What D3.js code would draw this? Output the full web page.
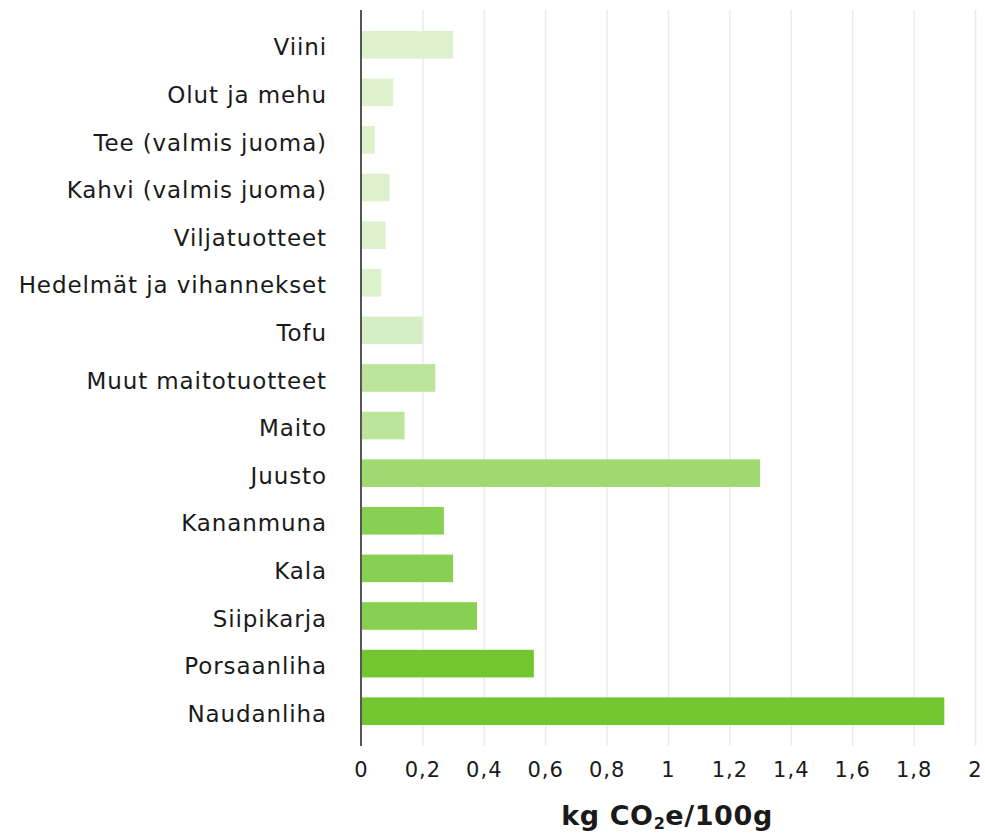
<!DOCTYPE html>
<html>
<head>
<meta charset="utf-8">
<script src="https://cdn.jsdelivr.net/npm/d3@7"></script>
<style>
    body { margin: 0; background: #fff; }
    #chart text { font-family: "DejaVu Sans", sans-serif; fill: #1a1a1a; }
    .grid line { stroke: #ebebeb; stroke-width: 1.5; }
    .grid path { display: none; }
</style>
</head>
<body>
<svg id="chart" width="985" height="833"></svg>
<script>
'use strict';
let categories = ["Viini", "Olut ja mehu ", "Tee (valmis juoma)", "Kahvi (valmis juoma)", "Viljatuotteet",
    "Hedelmät ja vihannekset", "Tofu", "Muut maitotuotteet", "Maito", "Juusto", "Kananmuna", "Kala",
    "Siipikarja", "Porsaanliha", "Naudanliha"];
let values = [0.30, 0.105, 0.045, 0.093, 0.08, 0.066, 0.20, 0.242, 0.142, 1.30, 0.27, 0.30, 0.378, 0.563, 1.90];
let barColors = ["#dcf1cc", "#dcf1cc", "#dcf1cc", "#dcf1cc", "#dcf1cc", "#dcf1cc", "#d5eec3",
    "#bce59b", "#bce59b", "#a0d972", "#88d051", "#88d051", "#88d051", "#72c62f", "#72c62f"];
let xTicks = [0, 0.2, 0.4, 0.6, 0.8, 1, 1.2, 1.4, 1.6, 1.8, 2];
let xLabelParts = ["kg CO", "2", "e/100g"];

let svg = d3.select("#chart");
let x0 = 361, x1 = 975, yTop = 10, yBottom = 746;

let x = d3.scaleLinear()
    .domain([0, 2])
    .range([x0, x1]);

let y = d3.scaleBand()
    .domain(categories)
    .range([20.9, 735])
    .paddingInner(0.42)
    .paddingOuter(0.21);

// grid lines
svg.append("g")
    .attr("class", "grid")
    .attr("transform", "translate(0," + yBottom + ")")
    .call(d3.axisBottom(x).tickValues(xTicks.slice(1)).tickSize(-(yBottom - yTop)).tickFormat(""));

// bars
svg.append("g")
    .selectAll("rect")
    .data(categories)
    .enter()
    .append("rect")
        .attr("x", x(0))
        .attr("y", d => y(d))
        .attr("width", (d, i) => x(values[i]) - x(0))
        .attr("height", y.bandwidth())
        .attr("fill", (d, i) => barColors[i]);

// y axis line
svg.append("line")
    .attr("x1", x0).attr("x2", x0)
    .attr("y1", yTop).attr("y2", yBottom)
    .attr("stroke", "#555")
    .attr("stroke-width", 2);

// category labels
let yAxis = svg.append("g")
    .attr("transform", "translate(" + x0 + ",0)")
    .call(d3.axisLeft(y).tickSize(0).tickPadding(34));
yAxis.select(".domain").remove();
yAxis.selectAll("text")
    .attr("font-size", 23)
    .attr("letter-spacing", 0.9)
    .attr("dy", "0.46em");

// x tick labels
let xAxis = svg.append("g")
    .attr("transform", "translate(0," + yBottom + ")")
    .call(d3.axisBottom(x).tickValues(xTicks).tickSize(0).tickPadding(16)
        .tickFormat(d => String(d).replace(".", ",")));
xAxis.select(".domain").remove();
xAxis.selectAll("text")
    .attr("font-size", 21)
    .attr("letter-spacing", 1);

let lbl = svg.append("text")
    .attr("x", 667)
    .attr("y", 825)
    .attr("text-anchor", "middle")
    .attr("font-size", 27)
    .attr("font-weight", "bold")
    .attr("letter-spacing", 0.6);
lbl.append("tspan").text(xLabelParts[0]);
lbl.append("tspan").attr("font-size", 16).attr("dy", 4).text(xLabelParts[1]);
lbl.append("tspan").attr("dy", -4).text(xLabelParts[2]);
</script>
</body>
</html>
